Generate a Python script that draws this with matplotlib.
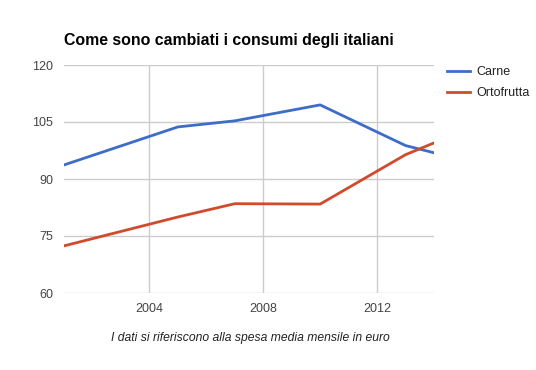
import matplotlib
matplotlib.use("Agg")
import matplotlib.pyplot as plt

years = [2001, 2005, 2007, 2010, 2013, 2014]
carne = [93.7, 103.7, 105.3, 109.5, 98.8, 96.9]
ortofrutta = [72.4, 80.0, 83.5, 83.4, 96.4, 99.5]
x_ticks = [2004, 2008, 2012]
y_ticks = [60, 75, 90, 105, 120]

plt.rcParams['font.family'] = ['Liberation Sans', 'DejaVu Sans']

fig = plt.figure(figsize=(5.36, 3.7), dpi=100)
ax = fig.add_axes([64/536, 1-293/370, 370/536, 228/370])

ax.plot(years, carne, color='#3d6cc9', lw=2, label='Carne', solid_joinstyle='round')
ax.plot(years, ortofrutta, color='#d14a2c', lw=2, label='Ortofrutta', solid_joinstyle='round')

ax.set_xlim(2001, 2014)
ax.set_ylim(60, 120)
ax.set_xticks(x_ticks)
ax.set_yticks(y_ticks)
ax.grid(True, color='#cccccc', lw=1)
ax.set_axisbelow(True)
for s in ax.spines.values():
    s.set_visible(False)
ax.tick_params(length=0, labelsize=9, colors='#444444', pad=8)
ax.tick_params(axis='x', pad=7)

fig.text(64/536, 1-40/370, 'Come sono cambiati i consumi degli italiani',
         fontsize=11.4, fontweight='bold', va='center', ha='left', color='black')
fig.text(250/536, 1-338/370, 'I dati si riferiscono alla spesa media mensile in euro',
         fontsize=8.7, style='italic', va='center', ha='center', color='#222222')

leg = fig.legend(loc='upper left', bbox_to_anchor=(447/536, 1-66/370), frameon=False,
                 fontsize=9, handlelength=1.85, handletextpad=0.5, labelspacing=0.75,
                 borderaxespad=0, borderpad=0)
for t in leg.get_texts():
    t.set_color('#222222')

fig.savefig('out.png', dpi=100)
